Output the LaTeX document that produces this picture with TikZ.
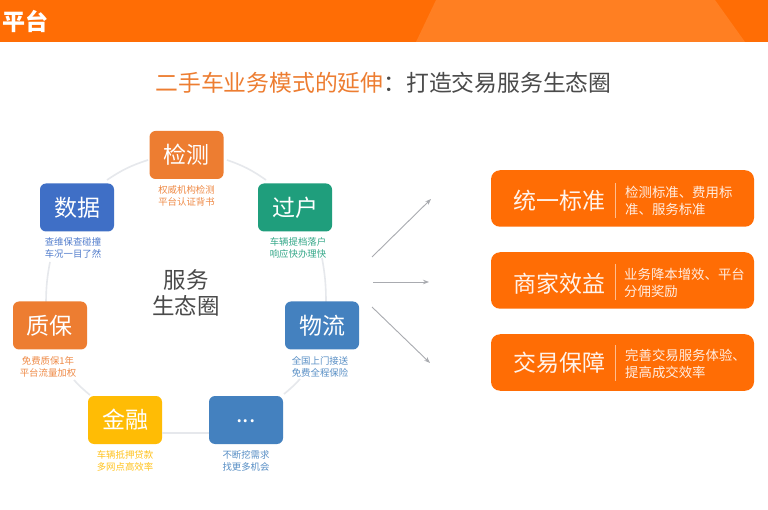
\documentclass[tikz,border=0pt]{standalone}
\usepackage{fontspec}
\setmainfont{Noto Sans CJK SC}
\usetikzlibrary{arrows.meta}
\definecolor{hdr}{HTML}{FF6D05}
\definecolor{hdrl}{HTML}{FF7F22}
\definecolor{cor}{HTML}{ED7D31}
\definecolor{cbl}{HTML}{3F6FC6}
\definecolor{cgr}{HTML}{1F9E7C}
\definecolor{csb}{HTML}{4481BF}
\definecolor{cye}{HTML}{FFBC05}
\definecolor{ring}{HTML}{E6E8EC}
\definecolor{ttl}{HTML}{4A4A4A}
\definecolor{arw}{HTML}{A9ABB0}
\tikzset{
  svc/.style={fill=#1,rounded corners=6pt,minimum width=74pt,minimum height=48pt,inner sep=0pt,text=white,font=\fontsize{23}{25}\selectfont},
  cap/.style={text=#1!90!white,font=\fontsize{9.4}{12}\selectfont,align=center,inner sep=0pt},
  ringl/.style={draw=ring,line width=1.6pt},
  arrowl/.style={draw=arw,line width=0.9pt,-{Stealth[length=6pt,width=4.5pt]}},
  bigbox/.style={fill=hdr,rounded corners=9pt,minimum width=263pt,minimum height=56.5pt,inner sep=0pt},
  bigt/.style={text=white!92!hdr,font=\fontsize{23}{25}\selectfont,inner sep=0pt},
  bigc/.style={text=white!88!hdr,font=\fontsize{13.4}{17}\selectfont,align=left,inner sep=0pt,anchor=west},
  divl/.style={draw=white!55!hdr,line width=0.7pt}
}
\begin{document}
\begin{tikzpicture}[x=1pt,y=-1pt]
\useasboundingbox (0,0) rectangle (768,510);
\fill[white] (0,0) rectangle (768,510);
% header
\fill[hdr] (0,0) rectangle (768,42);
\fill[hdrl] (436,0) -- (715,0) -- (745,42) -- (416,42) -- cycle;
\node[text=white,font=\bfseries\fontsize{23}{25}\selectfont,inner sep=0pt] (head) at (25,21) {平台};
\node[font=\fontsize{22.8}{25}\selectfont,inner sep=0pt] (title) at (383.5,83) {\textcolor{cor}{二手车业务模式的延伸}\textcolor{ttl}{：打造交易服务生态圈}};
% ring connector ends
\coordinate (r1a) at (148,160); \coordinate (r1b) at (107,180);
\coordinate (r2a) at (227,160); \coordinate (r2b) at (266,180);
\coordinate (r3a) at (50,262);  \coordinate (r3b) at (46,302);
\coordinate (r4a) at (322,258); \coordinate (r4b) at (326,302);
\coordinate (r5a) at (74,380);  \coordinate (r5b) at (90,395);
\coordinate (r6a) at (300,379); \coordinate (r6b) at (284,394);
\draw[ringl] (r1a) to[bend right=8] (r1b);
\draw[ringl] (r2a) to[bend left=8] (r2b);
\draw[ringl] (r3a) to[bend right=5] (r3b);
\draw[ringl] (r4a) to[bend left=5] (r4b);
\draw[ringl] (r5a) to[bend right=4] (r5b);
\draw[ringl] (r6a) to[bend left=4] (r6b);
% service nodes
\node[svc=cor] (jc) at (186.5,155) {检测};
\node[svc=cbl] (sj) at (77,207.5) {数据};
\node[svc=cgr] (gh) at (295,207.5) {过户};
\node[svc=cor] (zb) at (50,325.5) {质保};
\node[svc=csb] (wl) at (322,325.5) {物流};
\node[svc=cye] (jr) at (125,420) {金融};
\node[svc=csb] (et) at (246,420) {\raisebox{-6pt}{...}};
\draw[ringl] ([yshift=-13pt]jr.east) -- ([yshift=-13pt]et.west);
% captions
\node[cap=cor] (jcc) at (186.5,196) {权威机构检测\\平台认证背书};
\node[cap=cbl] (sjc) at (73,248) {查维保查碰撞\\车况一目了然};
\node[cap=cgr] (ghc) at (298,248) {车辆提档落户\\响应快办理快};
\node[cap=cor] (zbc) at (48,367) {免费质保1年\\平台流量加权};
\node[cap=csb] (wlc) at (320,367) {全国上门接送\\免费全程保险};
\node[cap=cye] (jrc) at (125,460.5) {车辆抵押贷款\\多网点高效率};
\node[cap=csb] (etc) at (246,460.5) {不断挖需求\\找更多机会};
% centre label
\node[text=ttl,font=\fontsize{22.5}{26}\selectfont,align=center,inner sep=0pt] (ctr) at (186,293) {服务\\生态圈};
% right boxes
\node[bigbox] (b1) at (622.5,198.5) {};
\node[bigbox] (b2) at (622.5,280.5) {};
\node[bigbox] (b3) at (622.5,362.5) {};
\node[bigt] (t1) at (559,201) {统一标准};
\node[bigt] (t2) at (559,284) {商家效益};
\node[bigt] (t3) at (559,363) {交易保障};
\coordinate (d1a) at (615,183); \coordinate (d1b) at (615,218);
\coordinate (d2a) at (615,264); \coordinate (d2b) at (615,300);
\coordinate (d3a) at (615,345); \coordinate (d3b) at (615,381);
\draw[divl] (d1a) -- (d1b);
\draw[divl] (d2a) -- (d2b);
\draw[divl] (d3a) -- (d3b);
\node[bigc] (c1) at (625,201) {检测标准、费用标\\准、服务标准};
\node[bigc] (c2) at (624,283) {业务降本增效、平台\\分佣奖励};
\node[bigc] (c3) at (625,364) {完善交易服务体验、\\提高成交效率};
% arrows
\coordinate (a1s) at (372,257); \coordinate (a1e) at (431,199);
\coordinate (a2s) at (373,282); \coordinate (a2e) at (429,282);
\coordinate (a3s) at (372,307); \coordinate (a3e) at (430,363);
\draw[arrowl] (a1s) -- (a1e);
\draw[arrowl] (a2s) -- (a2e);
\draw[arrowl] (a3s) -- (a3e);
\end{tikzpicture}
\end{document}
